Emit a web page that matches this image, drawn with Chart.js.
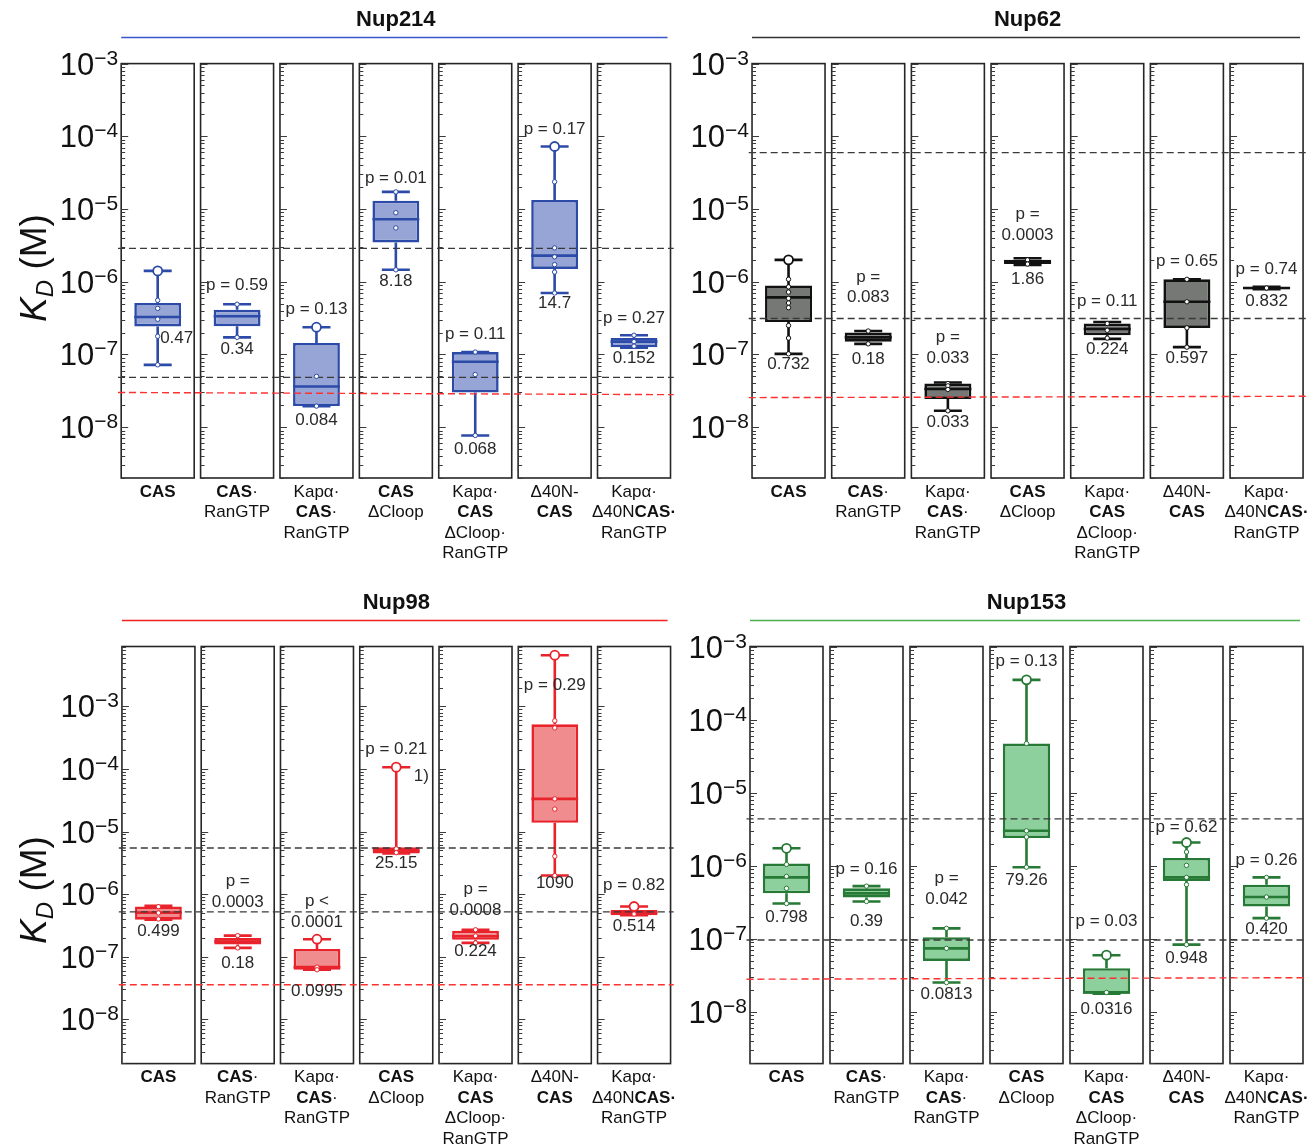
<!DOCTYPE html>
<html>
<head>
<meta charset="utf-8">
<script src="https://cdn.jsdelivr.net/npm/chart.js@4.4.1/dist/chart.umd.min.js"></script>
<style>
  body { margin: 0; background: #fff; }
  #wrap { position: relative; width: 1315px; height: 1148px; }
  canvas { position: absolute; }
</style>
</head>
<body>
<div id="wrap">
  <canvas id="nup214" width="680" height="580" style="left:0;top:0"></canvas>
  <canvas id="nup62" width="635" height="580" style="left:680px;top:0"></canvas>
  <canvas id="nup98" width="680" height="568" style="left:0;top:580px"></canvas>
  <canvas id="nup153" width="635" height="568" style="left:680px;top:580px"></canvas>
</div>
<script>
// Category labels (text between * is bold)
const categories = [
  ["*CAS*"],
  ["*CAS*·", "RanGTP"],
  ["Kapα·", "*CAS*·", "RanGTP"],
  ["*CAS*", "ΔCloop"],
  ["Kapα·", "*CAS*", "ΔCloop·", "RanGTP"],
  ["Δ40N-", "*CAS*"],
  ["Kapα·", "Δ40N*CAS·*", "RanGTP"]
];
const categoryNames = categories.map(c => c.join(" ").replace(/\*/g, ""));

// ---- Nup214 ----
const nup214Min = [7.2e-8, 1.72e-7, 1.95e-8, 1.46e-6, 7.7e-9, 7.0e-7, 1.24e-7];
const nup214Q1 = [2.43e-7, 2.45e-7, 1.95e-8, 3.47e-6, 2.99e-8, 1.5e-6, 1.26e-7];
const nup214Med = [3.27e-7, 3.35e-7, 3.63e-8, 7.24e-6, 7.94e-8, 2.29e-6, 1.5e-7];
const nup214Q3 = [5.1e-7, 4.12e-7, 1.44e-7, 1.3e-5, 1.08e-7, 1.33e-5, 1.68e-7];
const nup214Max = [1.41e-6, 4.9e-7, 2.37e-7, 1.72e-5, 1.08e-7, 7.24e-5, 1.84e-7];
const nup214Points = [
  [5.56e-7, 4.3e-7, 3.05e-7, 1.78e-7, 7.2e-8],
  [4.9e-7, 1.72e-7],
  [5.0e-8, 1.95e-8],
  [1.72e-5, 8.9e-6, 5.5e-6, 1.46e-6],
  [1.08e-7, 5.3e-8, 7.7e-9],
  [2.37e-5, 2.92e-6, 2.2e-6, 1.72e-6, 1.36e-6, 7.0e-7],
  [1.84e-7, 1.5e-7, 1.3e-7]
];
const nup214Open = [1.41e-6, null, 2.37e-7, null, null, 7.24e-5, null];
const nup214P = [null, "p = 0.59", "p = 0.13", "p = 0.01", "p = 0.11", "p = 0.17", "p = 0.27"];
const nup214N = ["0.47", "0.34", "0.084", "8.18", "0.068", "14.7", "0.152"];
const nup214Ref = [2.88e-6, 4.84e-8];
const nup214Red = [3.0e-8, 2.8e-8];

// ---- Nup62 ----
const nup62Min = [1.02e-7, 1.4e-7, 1.68e-8, 1.7e-6, 1.64e-7, 1.26e-7, 7.9e-7];
const nup62Q1 = [2.79e-7, 1.5e-7, 2.45e-8, 1.75e-6, 1.84e-7, 2.32e-7, 7.9e-7];
const nup62Med = [6.1e-7, 1.72e-7, 3.35e-8, 1.88e-6, 2.24e-7, 5.3e-7, 8.2e-7];
const nup62Q3 = [8.9e-7, 2.0e-7, 3.98e-8, 2.0e-6, 2.66e-7, 1.08e-6, 8.5e-7];
const nup62Max = [2.0e-6, 2.1e-7, 4.12e-8, 2.1e-6, 2.8e-7, 1.08e-6, 8.5e-7];
const nup62Points = [
  [1.08e-6, 8.5e-7, 7.2e-7, 5.9e-7, 5.1e-7, 4.4e-7, 2.5e-7, 1.68e-7, 1.02e-7],
  [2.1e-7, 1.4e-7],
  [3.98e-8, 3.7e-8, 3.3e-8, 1.68e-8],
  [2.0e-6, 1.75e-6],
  [2.66e-7, 2.15e-7, 1.68e-7],
  [1.08e-6, 5.3e-7, 2.32e-7, 1.26e-7],
  [8.2e-7]
];
const nup62Open = [2.0e-6, null, null, null, null, null, null];
const nup62P = [null, ["p =", "0.083"], ["p =", "0.033"], ["p =", "0.0003"], "p = 0.11", "p = 0.65", "p = 0.74"];
const nup62N = ["0.732", "0.18", "0.033", "1.86", "0.224", "0.597", "0.832"];
const nup62Ref = [5.96e-5, 3.13e-7];
const nup62Red = [2.55e-8, 2.66e-8];

// ---- Nup98 ----
const nup98Min = [3.9e-7, 1.38e-7, 6.16e-8, 4.47e-6, 1.66e-7, 1.98e-6, 4.6e-7];
const nup98Q1 = [3.9e-7, 1.56e-7, 6.16e-8, 4.47e-6, 1.86e-7, 1.38e-5, 4.6e-7];
const nup98Med = [5.05e-7, 1.74e-7, 6.8e-8, 4.92e-6, 2.12e-7, 3.33e-5, 5.05e-7];
const nup98Q3 = [6.34e-7, 1.98e-7, 1.33e-7, 5.6e-6, 2.6e-7, 5.19e-4, 5.55e-7];
const nup98Max = [6.5e-7, 2.17e-7, 1.9e-7, 1.07e-4, 2.69e-7, 6.6e-3, 6.34e-7];
const nup98Points = [
  [6.3e-7, 5.0e-7, 4.0e-7],
  [2.17e-7, 1.38e-7],
  [6.8e-8, 6.16e-8],
  [5.3e-6, 4.6e-6],
  [2.69e-7, 2.15e-7, 1.66e-7],
  [5.9e-4, 4.54e-4, 3.33e-5, 2.29e-5, 4.03e-6, 1.98e-6],
  [4.8e-7]
];
const nup98Open = [null, null, 1.9e-7, 1.07e-4, null, 6.6e-3, 6.34e-7];
const nup98P = [null, ["p =", "0.0003"], ["p <", "0.0001"], "p = 0.21", ["p =", "0.0008"], "p = 0.29", "p = 0.82"];
const nup98N = ["0.499", "0.18", "0.0995", "25.15", "0.224", "1090", "0.514"];
const nup98Ref = [5.47e-6, 5.19e-7];
const nup98Red = [3.56e-8, 3.56e-8];

// ---- Nup153 ----
const nup153Min = [3.06e-7, 3.27e-7, 2.53e-8, 9.64e-7, 1.78e-8, 8.36e-8, 1.93e-7];
const nup153Q1 = [4.22e-7, 3.71e-7, 5.0e-8, 2.42e-6, 1.78e-8, 6.24e-7, 2.79e-7];
const nup153Med = [6.98e-7, 4.22e-7, 7.44e-8, 3.04e-6, 1.85e-8, 6.98e-7, 3.76e-7];
const nup153Q3 = [1.08e-6, 4.95e-7, 1.06e-7, 4.77e-5, 3.97e-8, 1.29e-6, 5.56e-7];
const nup153Max = [1.75e-6, 5.3e-7, 1.4e-7, 3.56e-4, 6.0e-8, 2.1e-6, 6.98e-7];
const nup153Points = [
  [1.05e-6, 7.2e-7, 4.95e-7, 3.06e-7],
  [5.3e-7, 3.27e-7],
  [1.4e-7, 7.44e-8, 2.53e-8],
  [4.77e-5, 3.04e-6, 2.5e-6, 9.64e-7],
  [1.85e-8],
  [1.56e-6, 1.02e-6, 6.98e-7, 5.56e-7, 8.36e-8],
  [6.98e-7, 3.76e-7, 1.93e-7]
];
const nup153Open = [1.75e-6, null, null, 3.56e-4, 6.0e-8, 2.1e-6, null];
const nup153P = [null, "p = 0.16", ["p =", "0.042"], "p = 0.13", "p = 0.03", "p = 0.62", "p = 0.26"];
const nup153N = ["0.798", "0.39", "0.0813", "79.26", "0.0316", "0.948", "0.420"];
const nup153Ref = [4.43e-6, 9.7e-8];
const nup153Red = [2.81e-8, 2.95e-8];

// Where the annotation text sits (log10 of K_D)
const nup214PAt = [null, -6.05, -6.375, -4.575, -6.725, -3.9, -6.5];
const nup214NAt = [-6.775, -6.925, -7.9, -6.0, -8.3, -6.3, -7.05];
const nup62PAt = [null, -5.935, -6.765, -5.075, -6.275, -5.715, -5.825];
const nup62NAt = [-7.14, -7.065, -7.935, -5.965, -6.935, -7.05, -6.265];
const nup98PAt = [null, -5.802, -6.122, -3.692, -5.93, -2.663, -5.86];
const nup98NAt = [-6.587, -7.11, -7.547, -5.512, -6.919, -5.831, -6.512];
const nup153PAt = [null, -6.041, -6.175, -3.2, -6.764, -5.468, -5.916];
const nup153NAt = [-6.704, -6.764, -7.761, -6.19, -7.96, -7.262, -6.873];

const FONT = "'Liberation Sans', Arial, Helvetica, sans-serif";
const HALF = 36.5; // half width of each framed column

const panels = {
  nup214: {
    title: "Nup214", lineColor: "#3a56c8", edge: "#2c4aa8", fill: "#96a5d5",
    min: nup214Min, q1: nup214Q1, med: nup214Med, q3: nup214Q3, max: nup214Max,
    points: nup214Points, open: nup214Open, p: nup214P, n: nup214N,
    pAt: nup214PAt, nAt: nup214NAt, nShift: [19, 0, 0, 0, 0, 0, 0],
    ref: nup214Ref, red: nup214Red, yMin: 2.0e-9, yMax: 1e-3,
    pad: { left: 118, right: 6, top: 63.6, bottom: 102 }, axisTitleY: 268
  },
  nup62: {
    title: "Nup62", lineColor: "#333333", edge: "#111111", fill: "#767876",
    min: nup62Min, q1: nup62Q1, med: nup62Med, q3: nup62Q3, max: nup62Max,
    points: nup62Points, open: nup62Open, p: nup62P, n: nup62N,
    pAt: nup62PAt, nAt: nup62NAt, nShift: [0, 0, 0, 0, 0, 0, 0],
    ref: nup62Ref, red: nup62Red, yMin: 2.0e-9, yMax: 1e-3,
    pad: { left: 68.7, right: 8.6, top: 63.6, bottom: 102 }, axisTitleY: null
  },
  nup98: {
    title: "Nup98", lineColor: "#ee2222", edge: "#e8232b", fill: "#f08c8e",
    min: nup98Min, q1: nup98Q1, med: nup98Med, q3: nup98Q3, max: nup98Max,
    points: nup98Points, open: nup98Open, p: nup98P, n: nup98N,
    pAt: nup98PAt, nAt: nup98NAt, nShift: [0, 0, 0, 0, 0, 0, 0],
    ref: nup98Ref, red: nup98Red, yMin: 1.95e-9, yMax: 9.1e-3,
    pad: { left: 118.8, right: 5.8, top: 66.5, bottom: 84.4 }, axisTitleY: 310,
    extra: [{ col: 3, text: "1)", at: -4.116, dx: 25 }]
  },
  nup153: {
    title: "Nup153", lineColor: "#4cae50", edge: "#267a35", fill: "#8ecf9e",
    min: nup153Min, q1: nup153Q1, med: nup153Med, q3: nup153Q3, max: nup153Max,
    points: nup153Points, open: nup153Open, p: nup153P, n: nup153N,
    pAt: nup153PAt, nAt: nup153NAt, nShift: [0, 0, 0, 0, 0, 0, 0],
    ref: nup153Ref, red: nup153Red, yMin: 1.96e-9, yMax: 1.02e-3,
    pad: { left: 66.5, right: 8.5, top: 66.5, bottom: 84.4 }, axisTitleY: null
  }
};

// Draw a line of text where *...* parts are bold, centred on cx
function drawRich(ctx, line, cx, y, size) {
  const parts = line.split("*");
  const font = k => (k % 2 ? "bold " : "") + size + "px " + FONT;
  let w = 0;
  parts.forEach((t, k) => { ctx.font = font(k); w += ctx.measureText(t).width; });
  let x = cx - w / 2;
  ctx.textAlign = "left";
  parts.forEach((t, k) => { ctx.font = font(k); ctx.fillText(t, x, y); x += ctx.measureText(t).width; });
}

const boxParts = {
  id: "boxParts",
  beforeDatasetsDraw(chart) {
    const { ctx, chartArea: a, scales: { x, y } } = chart;
    const lo = Math.floor(Math.log10(y.min)), hi = Math.ceil(Math.log10(y.max));
    ctx.save();
    for (let i = 0; i < categories.length; i++) {
      const left = x.getPixelForValue(i) - HALF;
      ctx.strokeStyle = "#262626";
      ctx.lineWidth = 1.6;
      ctx.strokeRect(left, a.top, HALF * 2, a.bottom - a.top);
      // minor ticks on the inner left edge of each frame
      ctx.lineWidth = 1;
      ctx.strokeStyle = "#3a3a3a";
      ctx.beginPath();
      for (let d = lo; d <= hi; d++) {
        for (let m = 1; m < 10; m++) {
          const v = m * Math.pow(10, d);
          if (v < y.min || v > y.max) continue;
          const py = Math.round(y.getPixelForValue(v)) + 0.5;
          ctx.moveTo(left, py);
          ctx.lineTo(left + (m === 1 ? 7 : 4), py);
        }
      }
      ctx.stroke();
    }
    ctx.restore();
  },
  afterDatasetDraw(chart, args) {
    if (args.index !== 0) return;
    const p = panels[chart.canvas.id];
    const { ctx, chartArea: a, scales: { x, y } } = chart;
    const bars = chart.getDatasetMeta(0).data;
    ctx.save();
    ctx.strokeStyle = p.edge;
    ctx.lineWidth = 2.6;
    for (let i = 0; i < categories.length; i++) {
      const cx = x.getPixelForValue(i);
      const w = bars[i].width;
      const yMax = y.getPixelForValue(p.max[i]), yQ3 = y.getPixelForValue(p.q3[i]);
      const yMin = y.getPixelForValue(p.min[i]), yQ1 = y.getPixelForValue(p.q1[i]);
      const yMed = y.getPixelForValue(p.med[i]);
      ctx.beginPath();
      ctx.moveTo(cx, yMax); ctx.lineTo(cx, yQ3);
      ctx.moveTo(cx, yQ1); ctx.lineTo(cx, yMin);
      ctx.moveTo(cx - 14, yMax); ctx.lineTo(cx + 14, yMax);
      ctx.moveTo(cx - 14, yMin); ctx.lineTo(cx + 14, yMin);
      ctx.moveTo(cx - w / 2, yMed); ctx.lineTo(cx + w / 2, yMed);
      ctx.stroke();
    }
    // reference lines
    ctx.lineWidth = 1.4;
    ctx.setLineDash([7, 4]);
    ctx.strokeStyle = "#3a3a3a";
    p.ref.forEach(v => {
      const py = y.getPixelForValue(v);
      ctx.beginPath(); ctx.moveTo(a.left, py); ctx.lineTo(a.right, py); ctx.stroke();
    });
    ctx.strokeStyle = "#ff3030";
    ctx.beginPath();
    ctx.moveTo(a.left, y.getPixelForValue(p.red[0]));
    ctx.lineTo(a.right, y.getPixelForValue(p.red[1]));
    ctx.stroke();
    ctx.restore();
  },
  afterDraw(chart) {
    const p = panels[chart.canvas.id];
    const { ctx, chartArea: a, scales: { x, y } } = chart;
    const first = x.getPixelForValue(0) - HALF;
    const last = x.getPixelForValue(categories.length - 1) + HALF;
    ctx.save();
    // title and coloured rule
    ctx.fillStyle = "#111";
    ctx.font = "bold 22px " + FONT;
    ctx.textAlign = "center";
    ctx.textBaseline = "middle";
    ctx.fillText(p.title, (first + last) / 2, a.top - 44);
    ctx.strokeStyle = p.lineColor;
    ctx.lineWidth = 1.5;
    ctx.beginPath(); ctx.moveTo(first, a.top - 26); ctx.lineTo(last - 3, a.top - 26); ctx.stroke();

    // y tick labels 10^n
    ctx.textBaseline = "alphabetic";
    ctx.textAlign = "left";
    for (let d = Math.ceil(Math.log10(y.min)); d <= Math.floor(Math.log10(y.max) + 1e-9); d++) {
      const py = y.getPixelForValue(Math.pow(10, d));
      const sup = "\u2212" + (-d);
      ctx.font = "21px " + FONT;
      const ws = ctx.measureText(sup).width;
      ctx.font = "31px " + FONT;
      const wb = ctx.measureText("10").width;
      const x0 = first - 3 - ws - wb;
      ctx.fillText("10", x0, py + 11);
      ctx.font = "21px " + FONT;
      ctx.fillText(sup, x0 + wb, py + 1);
    }

    // axis title K_D (M)
    if (p.axisTitleY !== null) {
      ctx.translate(32, p.axisTitleY);
      ctx.rotate(-Math.PI / 2);
      const fK = "italic 37px " + FONT, fD = "italic 24px " + FONT, fM = "37px " + FONT;
      ctx.font = fK; const wK = ctx.measureText("K").width;
      ctx.font = fD; const wD = ctx.measureText("D").width;
      ctx.font = fM; const wM = ctx.measureText(" (M)").width;
      let xx = -(wK + wD + wM) / 2;
      ctx.font = fK; ctx.fillText("K", xx, 14); xx += wK;
      ctx.font = fD; ctx.fillText("D", xx, 21); xx += wD;
      ctx.font = fM; ctx.fillText(" (M)", xx, 14);
      ctx.setTransform(1, 0, 0, 1, 0, 0);
    }

    // category labels
    ctx.fillStyle = "#111";
    ctx.textBaseline = "middle";
    categories.forEach((lines, i) => {
      const cx = x.getPixelForValue(i);
      lines.forEach((ln, k) => drawRich(ctx, ln, cx, a.bottom + 14 + k * 20.5, 17));
    });

    // p values and N values
    ctx.fillStyle = "#2a2a2a";
    ctx.font = "17px " + FONT;
    ctx.textAlign = "center";
    for (let i = 0; i < categories.length; i++) {
      const cx = x.getPixelForValue(i);
      if (p.p[i] !== null) {
        const lines = Array.isArray(p.p[i]) ? p.p[i] : [p.p[i]];
        const py = y.getPixelForValue(Math.pow(10, p.pAt[i]));
        lines.forEach((t, k) => ctx.fillText(t, cx, py + k * 20.5));
      }
      ctx.fillText(p.n[i], cx + p.nShift[i], y.getPixelForValue(Math.pow(10, p.nAt[i])));
    }
    (p.extra || []).forEach(e => {
      ctx.fillText(e.text, x.getPixelForValue(e.col) + e.dx, y.getPixelForValue(Math.pow(10, e.at)));
    });
    ctx.restore();
  }
};

function makePanel(id) {
  const p = panels[id];
  // points use the category name so the category scale places them in the right column
  const pts = p.points.flatMap((arr, i) => arr.map(v => ({ x: categoryNames[i], y: v })));
  const open = p.open.map((v, i) => (v === null ? null : { x: categoryNames[i], y: v })).filter(Boolean);
  new Chart(document.getElementById(id), {
    type: "bar",
    data: {
      labels: categoryNames,
      datasets: [
        {
          type: "bar",
          data: p.q1.map((v, i) => [v, p.q3[i]]),
          backgroundColor: p.fill,
          borderColor: p.edge,
          borderWidth: 2.6,
          borderSkipped: false,
          barPercentage: 0.59,
          categoryPercentage: 1,
          order: 3
        },
        {
          type: "line",
          data: pts,
          showLine: false,
          pointRadius: 2.2,
          pointBackgroundColor: "#fff",
          pointBorderColor: p.edge,
          pointBorderWidth: 1,
          order: 2
        },
        {
          type: "line",
          data: open,
          showLine: false,
          pointRadius: 4.5,
          pointBackgroundColor: "#fff",
          pointBorderColor: p.edge,
          pointBorderWidth: 1.8,
          order: 1
        }
      ]
    },
    options: {
      responsive: false,
      animation: false,
      events: [],
      layout: { padding: p.pad },
      plugins: { legend: { display: false }, tooltip: { enabled: false } },
      scales: {
        x: { type: "category", display: false, offset: true },
        y: { type: "logarithmic", display: false, min: p.yMin, max: p.yMax }
      }
    },
    plugins: [boxParts]
  });
}

["nup214", "nup62", "nup98", "nup153"].forEach(makePanel);
</script>
</body>
</html>
